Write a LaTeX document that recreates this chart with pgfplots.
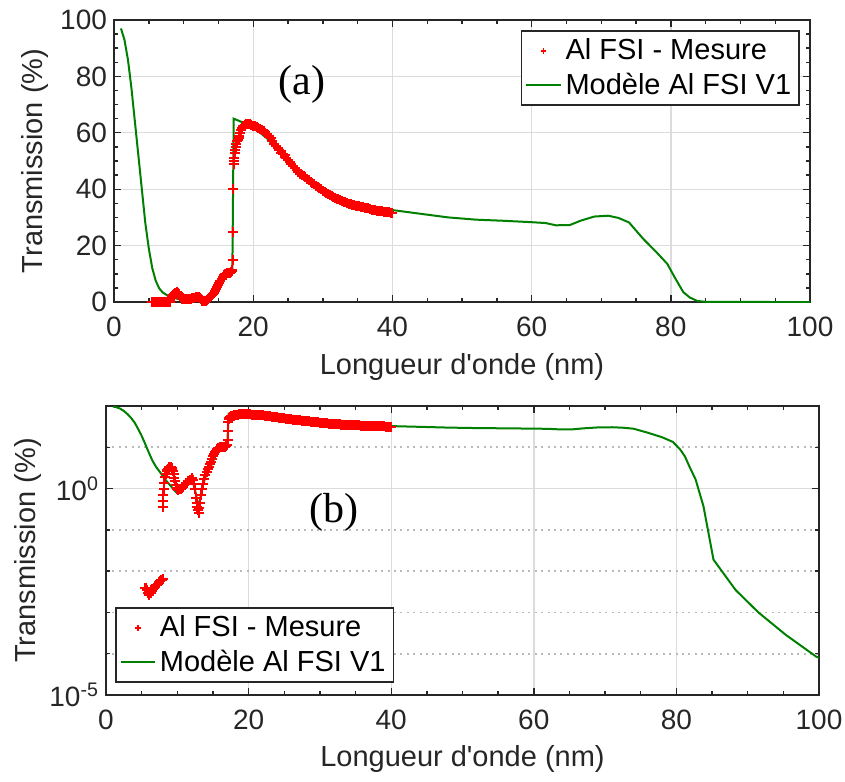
\documentclass[border=0pt]{standalone}
\usepackage{pgfplots}
\pgfplotsset{compat=1.18}
\usepackage{pgfplotstable}
\usepackage{fontspec}
\setmainfont{Liberation Sans}
\newfontfamily\timesfont{Liberation Serif}
\definecolor{txt}{HTML}{262626}
\definecolor{grd}{HTML}{DCDCDC}
\definecolor{mgreen}{rgb}{0,0.5,0}

\pgfplotstableread{
x y
5.5 0.004
5.6 0.0038
5.75 0.0035
5.9 0.003
6.0 0.0027
6.1 0.0028
6.25 0.003
6.4 0.0033
6.5 0.0035
6.6 0.0037
6.75 0.004
6.9 0.0043
7.0 0.0045
7.1 0.0047
7.25 0.005
7.4 0.0053
7.5 0.0055
7.6 0.0057
7.75 0.006
7.9 0.0062
8.0 0.0065
8.0 0.35
8.02 0.5
8.05 0.7
8.1 1.0
8.2 1.4
8.3 1.9
8.4 2.3
8.5 2.6
8.6 2.8
8.7 3.0
8.8 3.2
8.9 3.3
9.0 3.4
9.1 3.3
9.2 3.1
9.3 2.9
9.4 2.6
9.5 2.2
9.6 1.8
9.7 1.5
9.8 1.2
9.9 1.05
10.0 0.95
10.15 0.93
10.3 0.95
10.45 1.0
10.6 1.05
10.8 1.1
11.0 1.2
11.25 1.35
11.5 1.5
11.75 1.65
12.0 1.8
12.15 1.6
12.3 1.3
12.45 0.95
12.6 0.6
12.7 0.45
12.8 0.35
12.9 0.3
13.0 0.26
13.1 0.33
13.2 0.45
13.35 0.7
13.5 1.0
13.65 1.3
13.8 1.7
13.95 2.1
14.1 2.5
14.25 2.9
14.4 3.3
14.55 3.9
14.7 4.5
14.85 5.2
15.0 6.0
15.15 6.8
15.3 7.5
15.45 8.3
15.6 9.0
15.75 9.4
15.9 9.8
16.05 10.0
16.2 10.2
16.35 10.25
16.5 10.3
16.65 10.4
16.8 10.5
16.9 11.0
17.0 11.5
17.05 15
17.1 25
17.15 40
17.2 49
17.25 50
17.3 51
17.35 53
17.4 54
17.5 55
17.6 56
17.7 57
17.8 57.5
17.9 58.3
18.0 59
18.15 60
18.3 61
18.45 61.8
18.6 62.5
18.8 62.8
19.0 63
19.25 63.2
19.5 63
19.75 62.8
20.0 62.5
20.25 62.3
20.5 62
20.75 61.8
21.0 61.5
21.25 61
21.5 60.5
21.75 60
22.0 59.5
22.25 58.8
22.5 58
22.75 57
23.0 56
23.25 55.2
23.5 54.5
23.75 53.8
24.0 53
24.25 52.6
24.5 52
24.75 51.2
25.0 50.5
25.25 49.8
25.5 49
25.75 48.2
26.0 47.5
26.25 46.7
26.5 46
26.75 45.5
27.0 45
27.25 44.6
27.5 44.2
27.75 43.7
28.0 43.2
28.25 42.7
28.5 42.2
28.75 41.7
29.0 41.2
29.25 40.7
29.5 40.3
29.75 39.9
30.0 39.5
30.25 39.1
30.5 38.7
30.75 38.3
31.0 38
31.25 37.6
31.5 37.3
31.75 37.0
32.0 36.7
32.25 36.4
32.5 36.1
32.75 35.8
33.0 35.6
33.25 35.3
33.5 35.1
33.75 34.9
34.0 34.7
34.25 34.5
34.5 34.3
34.75 34.2
35.0 34.1
35.25 33.9
35.5 33.8
35.75 33.6
36.0 33.5
36.25 33.3
36.5 33.2
36.75 33.0
37.0 32.8
37.25 32.6
37.5 32.5
37.75 32.4
38.0 32.3
38.25 32.2
38.5 32.1
38.75 32.0
39.0 31.9
39.25 31.8
39.5 31.8
39.75 31.7
40.0 31.7
}\meas

\pgfplotstableread{
x y
1.0 97
1.5 93
2.0 86
2.5 76
3.0 64
3.5 52
4.0 40
4.5 28
5.0 19
5.5 12
6.0 7.5
6.5 4.8
7.0 3.4
7.5 2.6
8.0 2.0
8.5 1.5
9.0 1.2
9.5 0.95
9.9 0.8
10.5 0.9
11.0 1.1
11.5 1.5
12.0 1.9
12.5 0.9
13.0 0.35
13.5 1.1
14.0 2.0
14.5 2.9
15.0 4.5
15.5 7.0
16.0 9.0
16.5 10.0
17.0 10.3
17.2 65
18 64.2
20 62
22 58
24 52.5
25 49.5
27 45
29 41
31 38
33 35.8
36 33.8
40 32.6
44 31.3
48 30
52 29.2
56 28.8
60 28.3
62 28
63.5 27.2
65.5 27.3
67 28.8
69 30.3
71 30.6
72.5 29.8
74 28.2
76 22.5
78 17.5
79.5 13.5
80.5 9
81.2 6
81.8 3.5
82.7 1.65
83.8 0.37
85.2 0.019
88.3 0.0035
91.5 0.001
95.3 0.00029
99.6 0.000085
100 0.00008
}\model

\pgfplotsset{
  common/.style={
    scale only axis,
    xmin=0, xmax=100,
    xtick={0,20,40,60,80,100},
    axis line style={txt, line width=0.8pt},
    every tick/.style={txt, line width=0.7pt},
    major tick length=3.5pt,
    minor tick length=2.2pt,
    tick align=inside,
    grid=major,
    major grid style={grd, line width=0.7pt},
    tick label style={font=\fontsize{14}{16}\selectfont, text=txt},
    xticklabel style={yshift=-4pt},
    /pgf/number format/assume math mode=true,
    legend style={font=\fontsize{14.5}{17}\selectfont, draw=txt, line width=0.8pt,
      inner sep=2pt, row sep=1pt, cells={anchor=west}},
    legend cell align=left,
  },
  meas/.style={only marks, mark=+, mark size=2.5pt, red, line width=1pt,
    legend image post style={mark size=1.4pt, line width=0.9pt}},
  mod/.style={mgreen, line width=1pt, mark=none},
}
\newcommand{\xlab}{Longueur d\textquotesingle onde (nm)}

\begin{document}
\begin{tikzpicture}
\useasboundingbox (0,0) rectangle (422.5pt,-390.5pt);

\begin{axis}[common,
  at={(57pt,-10pt)}, anchor=north west,
  width=348pt, height=141pt,
  ymin=0, ymax=100,
  ytick={0,20,40,60,80,100},
  minor x tick num=3, minor y tick num=3,
  xlabel={\xlab},
  ylabel={Transmission (\%)},
  every axis x label/.style={at={(axis description cs:0.5,-0.2305)}, anchor=center,
    font=\fontsize{14.5}{17}\selectfont, text=txt},
  every axis y label/.style={at={(axis description cs:-0.1135,0.5)}, anchor=center, rotate=90,
    font=\fontsize{14.5}{17}\selectfont, text=txt},
  legend style={at={(axis description cs:0.9856,0.9645)}, anchor=north east},
]
\addplot[meas] table[x=x,y=y] {\meas};
\addlegendentry{Al FSI - Mesure}
\addplot[mod] table[x=x,y=y] {\model};
\addlegendentry{Mod\`ele Al FSI V1}
\node[font=\timesfont\fontsize{21}{24}\selectfont, text=black] at (axis cs:27,77) {(a)};
\end{axis}

\begin{axis}[common,
  at={(53pt,-203pt)}, anchor=north west,
  width=356.5pt, height=144.5pt,
  ymode=log, log basis y=10,
  ymin=1e-5, ymax=100,
  ytick={1e-5,1},
  yticklabels={10\textsuperscript{-5},10\textsuperscript{0}},
  minor xtick={5,10,15,25,30,35,45,50,55,65,70,75,85,90,95},
  minor ytick={1e-4,1e-3,1e-2,1e-1,10},
  xminorgrids=false, yminorgrids=true,
  minor grid style={gray!55, line width=0.8pt, dash pattern=on 1pt off 2.2pt},
  xlabel={\xlab},
  ylabel={Transmission (\%)},
  every axis x label/.style={at={(axis description cs:0.5,-0.2215)}, anchor=center,
    font=\fontsize{14.5}{17}\selectfont, text=txt},
  every axis y label/.style={at={(axis description cs:-0.109,0.5)}, anchor=center, rotate=90,
    font=\fontsize{14.5}{17}\selectfont, text=txt},
  legend style={at={(axis description cs:0.0126,0.0415)}, anchor=south west},
]
\addplot[meas] table[x=x,y=y] {\meas};
\addlegendentry{Al FSI - Mesure}
\addplot[mod] table[x=x,y=y] {\model};
\addlegendentry{Mod\`ele Al FSI V1}
\node[font=\timesfont\fontsize{21}{24}\selectfont, text=black] at (axis cs:32,0.26) {(b)};
\end{axis}
\end{tikzpicture}
\end{document}
